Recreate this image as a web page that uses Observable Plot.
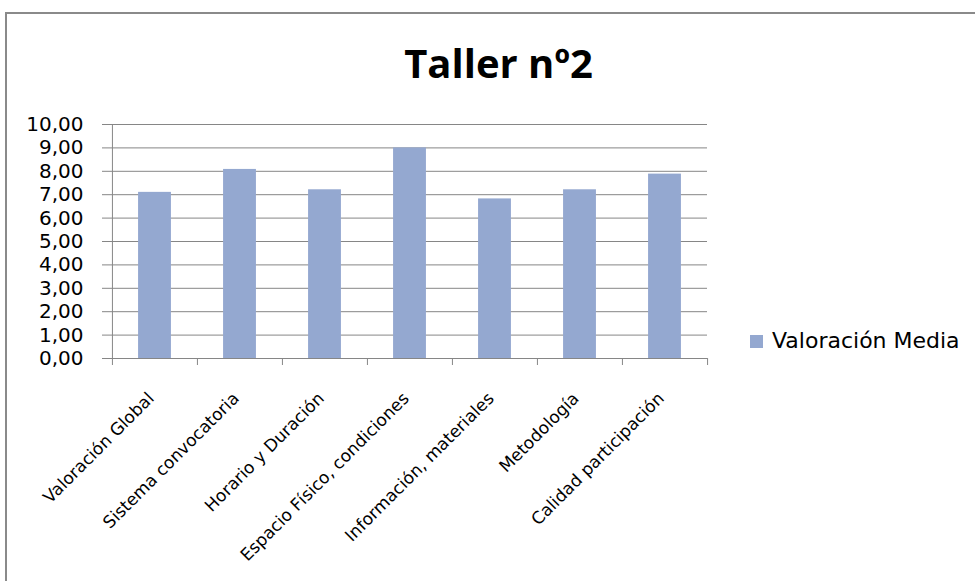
<!DOCTYPE html>
<html>
<head>
<meta charset="utf-8">
<script src="https://cdn.jsdelivr.net/npm/d3@7"></script>
<script src="https://cdn.jsdelivr.net/npm/@observablehq/plot@0.6"></script>
<style>
  html, body { margin: 0; padding: 0; background: #fff; overflow: hidden; }
  #wrap { position: relative; width: 975px; height: 581px; overflow: hidden; }
  #border { position: absolute; left: 5px; top: 12px; width: 1100px; height: 1100px; border: 2px solid #8a8a8a; box-sizing: border-box; }
  #title { position: absolute; left: 0; top: 35px; width: 997px; text-align: center; font-family: "Open Sans"; font-weight: 700; font-size: 40px; line-height: 56px; color: #000; }
  #legend { position: absolute; left: 750px; top: 329px; font-family: "DejaVu Sans"; font-size: 22px; line-height: 24px; color: #000; white-space: nowrap; }
  #legend .sw { display: inline-block; width: 13px; height: 13px; background: #94a8d0; margin-right: 9px; vertical-align: 0; }
  #chart { position: absolute; left: 0; top: 0; }
</style>
</head>
<body>
<div id="wrap">
  <div id="border"></div>
  <div id="chart"></div>
  <div id="title">Taller nº2</div>
  <div id="legend"><span class="sw"></span>Valoración Media</div>
</div>
<script>
const categories = [
  "Valoración Global",
  "Sistema convocatoria",
  "Horario y Duración",
  "Espacio Físico, condiciones",
  "Información, materiales",
  "Metodología",
  "Calidad participación"
];
const values = [7.10, 8.08, 7.21, 9.00, 6.82, 7.21, 7.88];
const yTicks = [0, 1, 2, 3, 4, 5, 6, 7, 8, 9, 10];
const seriesName = "Valoración Media";

const data = categories.map((c, i) => ({cat: c, val: values[i]}));

const W = 975, H = 581, mL = 111, mR = 268, mT = 124, mB = 223;
const step = (W - mL - mR) / categories.length;
const barW = 33;
const inset = (step - barW) / 2;
const fmt = d => d3.format(".2f")(d).replace(".", ",");

const chart = Plot.plot({
  width: W,
  height: H,
  marginLeft: mL,
  marginRight: mR,
  marginTop: mT,
  marginBottom: mB,
  x: {domain: categories, padding: 0, axis: null},
  y: {domain: [0, 10], axis: null},
  style: {fontFamily: "DejaVu Sans", fontSize: "20px", background: "transparent", color: "#000"},
  marks: [
    Plot.gridY(yTicks, {stroke: "#868686", strokeOpacity: 1, strokeWidth: 1}),
    Plot.barY(data, {x: "cat", y: "val", fill: "#94a8d0", insetLeft: inset, insetRight: inset}),
    Plot.ruleX([categories[0]], {dx: -step / 2, y1: 10, y2: 0, insetBottom: -7, stroke: "#868686"}),
    Plot.ruleX(categories.slice(1), {x: d => d, dx: -step / 2, y1: 0, y2: 0, insetBottom: -7, stroke: "#868686"}),
    Plot.ruleX([categories[categories.length - 1]], {dx: step / 2, y1: 0, y2: 0, insetBottom: -7, stroke: "#868686"}),
    Plot.axisY({ticks: yTicks, label: null, tickSize: 9, tickPadding: 19, tickFormat: fmt, stroke: "#868686", fill: "#000", fontSize: 20}),
    Plot.text(categories, {x: d => d, frameAnchor: "bottom", text: d => d, rotate: -45, textAnchor: "end", dx: 0, dy: 41, fontSize: 17, fill: "#000"})
  ]
});
document.getElementById("chart").appendChild(chart);
</script>
</body>
</html>
